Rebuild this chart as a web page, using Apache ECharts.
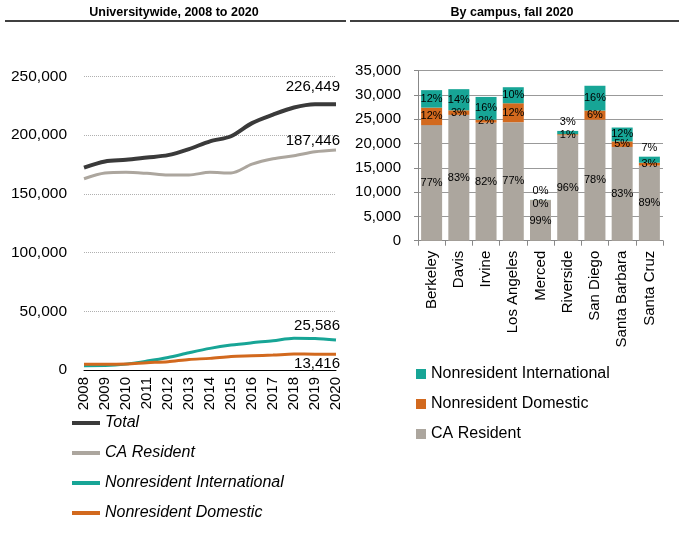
<!DOCTYPE html>
<html>
<head>
<meta charset="utf-8">
<script src="https://cdn.jsdelivr.net/npm/echarts@6/dist/echarts.min.js"></script>
<style>html,body{margin:0;padding:0;background:#fff;}#c{width:686px;height:535px;}</style>
</head>
<body>
<div id="c"></div>
<script>
// ---- Data: Universitywide, 2008 to 2020 ----
var years = ['2008','2009','2010','2011','2012','2013','2014','2015','2016','2017','2018','2019','2020'];
var totalSeries    = [172400,177600,179000,181000,183000,188200,194800,199100,210300,217500,223600,226400,226449];
var caResSeries    = [162900,167800,168400,167500,166100,166100,168400,167800,175300,179900,182500,185900,187446];
var intlSeries     = [3700,3800,5000,7600,10700,14700,18400,21200,23200,24900,27100,26800,25586];
var domSeries      = [4800,4800,5100,6200,7100,9000,9900,11600,12100,12700,13600,13500,13416];
var leftTicks      = [0,50000,100000,150000,200000,250000];

// ---- Data: By campus, fall 2020 ----
var campuses   = ['Berkeley','Davis','Irvine','Los Angeles','Merced','Riverside','San Diego','Santa Barbara','Santa Cruz'];
var campusCA   = [23800,25900,24300,24400,8330,21700,24900,19300,15450];
var campusDom  = [3600,950,600,3900,30,230,1900,1150,600];
var campusIntl = [3600,4350,4700,3300,40,670,5100,2850,1250];
var rightTicks = [0,5000,10000,15000,20000,25000,30000,35000];

var FONT = 'Liberation Sans';
var C_TOTAL = '#3a3a3a', C_CA = '#aca69e', C_INTL = '#17a596', C_DOM = '#d2691e';

function fmt(v){ return v.toString().replace(/\B(?=(\d{3})+(?!\d))/g, ','); }
var campusTotal = campuses.map(function(_, i){ return campusCA[i] + campusDom[i] + campusIntl[i]; });
function pct(v, i){ return Math.round(v / campusTotal[i] * 100) + '%'; }

function lineData(arr, labelCfg){
  return arr.map(function(v, i){
    if (i === arr.length - 1) {
      return { value: v, label: Object.assign({ show: true, formatter: fmt(v), align: 'right', offset: [4, 0],
        fontFamily: FONT, fontSize: 15, color: '#000', lineHeight: 16 }, labelCfg) };
    }
    return v;
  });
}

var barLabelBase = { show: true, color: '#000', fontFamily: FONT, fontSize: 11, position: 'inside' };
function barData(arr, kind){
  return arr.map(function(v, i){
    var lab = Object.assign({}, barLabelBase, { formatter: pct(v, i) });
    var share = v / campusTotal[i];
    if (kind === 'intl' && share < 0.08) { lab.position = 'top'; lab.distance = 3; }
    if (kind === 'dom' && share < 0.005) { lab.offset = [0, 4]; }
    return { value: v, label: lab };
  });
}

var chart = echarts.init(document.getElementById('c'));
var option = {
  animation: false,
  textStyle: { fontFamily: FONT },
  graphic: [
    { type: 'text', x: 174, y: 6, style: { text: 'Universitywide, 2008 to 2020', font: 'bold 12.5px "Liberation Sans"', fill: '#000', textAlign: 'center' } },
    { type: 'line', shape: { x1: 5, y1: 21, x2: 346, y2: 21 }, style: { stroke: '#000', lineWidth: 1.5 } },
    { type: 'text', x: 512, y: 6, style: { text: 'By campus, fall 2020', font: 'bold 12.5px "Liberation Sans"', fill: '#000', textAlign: 'center' } },
    { type: 'line', shape: { x1: 350, y1: 21, x2: 679, y2: 21 }, style: { stroke: '#000', lineWidth: 1.5 } }
  ],
  legend: [
    {
      orient: 'vertical', left: 72, top: 415, padding: 0, itemWidth: 28, itemHeight: 4, itemGap: 14, icon: 'rect',
      data: ['Total', 'CA Resident', 'Nonresident International', 'Nonresident Domestic'],
      textStyle: { fontFamily: FONT, fontSize: 16, fontStyle: 'italic', color: '#000', lineHeight: 16 },
      selectedMode: false
    },
    {
      orient: 'vertical', left: 416, top: 366, padding: 0, itemWidth: 10, itemHeight: 10, itemGap: 14, icon: 'rect',
      data: ['Nonresident International', 'Nonresident Domestic', 'CA Resident'],
      textStyle: { fontFamily: FONT, fontSize: 16, color: '#000', lineHeight: 16 },
      selectedMode: false
    }
  ],
  grid: [
    { left: 84, top: 76.5, width: 252, height: 293.5 },
    { left: 418, top: 70.7, width: 245, height: 170 }
  ],
  xAxis: [
    {
      gridIndex: 0, type: 'category', data: years, boundaryGap: false,
      axisLine: { lineStyle: { color: '#000', width: 1 } },
      axisTick: { show: false },
      axisLabel: { rotate: 90, margin: 7, fontFamily: FONT, fontSize: 15, color: '#000', interval: 0 }
    },
    {
      gridIndex: 1, type: 'category', data: campuses,
      axisLine: { lineStyle: { color: '#888', width: 1 } },
      axisTick: { show: true, length: 5, lineStyle: { color: '#888' } },
      axisLabel: { rotate: 90, margin: 10, fontFamily: FONT, fontSize: 15, color: '#000', interval: 0 }
    }
  ],
  yAxis: [
    {
      gridIndex: 0, type: 'value', min: leftTicks[0], max: leftTicks[leftTicks.length - 1], interval: leftTicks[1] - leftTicks[0],
      axisLine: { show: false }, axisTick: { show: false },
      splitLine: { lineStyle: { color: '#b0b0b0', type: [1, 1], width: 1 } },
      axisLabel: { margin: 17, fontFamily: FONT, fontSize: 15.5, color: '#000', formatter: function(v){ return fmt(v); } }
    },
    {
      gridIndex: 1, type: 'value', min: rightTicks[0], max: rightTicks[rightTicks.length - 1], interval: rightTicks[1] - rightTicks[0],
      axisLine: { show: true, lineStyle: { color: '#888' } },
      axisTick: { show: true, length: 4, lineStyle: { color: '#888' } },
      splitLine: { lineStyle: { color: '#999', width: 1 } },
      axisLabel: { margin: 17, fontFamily: FONT, fontSize: 15, color: '#000', formatter: function(v){ return fmt(v); } }
    }
  ],
  series: [
    { name: 'Total', type: 'line', xAxisIndex: 0, yAxisIndex: 0, smooth: 0.3, symbol: 'circle', symbolSize: 0.01, showSymbol: true,
      itemStyle: { color: C_TOTAL }, lineStyle: { color: C_TOTAL, width: 4 }, z: 5,
      data: lineData(totalSeries, { position: 'top', distance: 9 }) },
    { name: 'CA Resident', type: 'line', xAxisIndex: 0, yAxisIndex: 0, smooth: 0.3, symbol: 'circle', symbolSize: 0.01, showSymbol: true,
      itemStyle: { color: C_CA }, lineStyle: { color: C_CA, width: 3 }, z: 4,
      data: lineData(caResSeries, { position: 'top', distance: 1 }) },
    { name: 'Nonresident International', type: 'line', xAxisIndex: 0, yAxisIndex: 0, smooth: 0.3, symbol: 'circle', symbolSize: 0.01, showSymbol: true,
      itemStyle: { color: C_INTL }, lineStyle: { color: C_INTL, width: 3 }, z: 3,
      data: lineData(intlSeries, { position: 'top', distance: 6 }) },
    { name: 'Nonresident Domestic', type: 'line', xAxisIndex: 0, yAxisIndex: 0, smooth: 0.3, symbol: 'circle', symbolSize: 0.01, showSymbol: true,
      itemStyle: { color: C_DOM }, lineStyle: { color: C_DOM, width: 3 }, z: 4,
      data: lineData(domSeries, { position: 'bottom', distance: 2 }) },

    { name: 'CA Resident', type: 'bar', stack: 'campus', xAxisIndex: 1, yAxisIndex: 1, barWidth: 21,
      itemStyle: { color: C_CA }, data: barData(campusCA, 'ca') },
    { name: 'Nonresident Domestic', type: 'bar', stack: 'campus', xAxisIndex: 1, yAxisIndex: 1, barWidth: 21,
      itemStyle: { color: C_DOM }, data: barData(campusDom, 'dom') },
    { name: 'Nonresident International', type: 'bar', stack: 'campus', xAxisIndex: 1, yAxisIndex: 1, barWidth: 21,
      itemStyle: { color: C_INTL }, data: barData(campusIntl, 'intl') }
  ]
};
chart.setOption(option);
</script>
</body>
</html>
